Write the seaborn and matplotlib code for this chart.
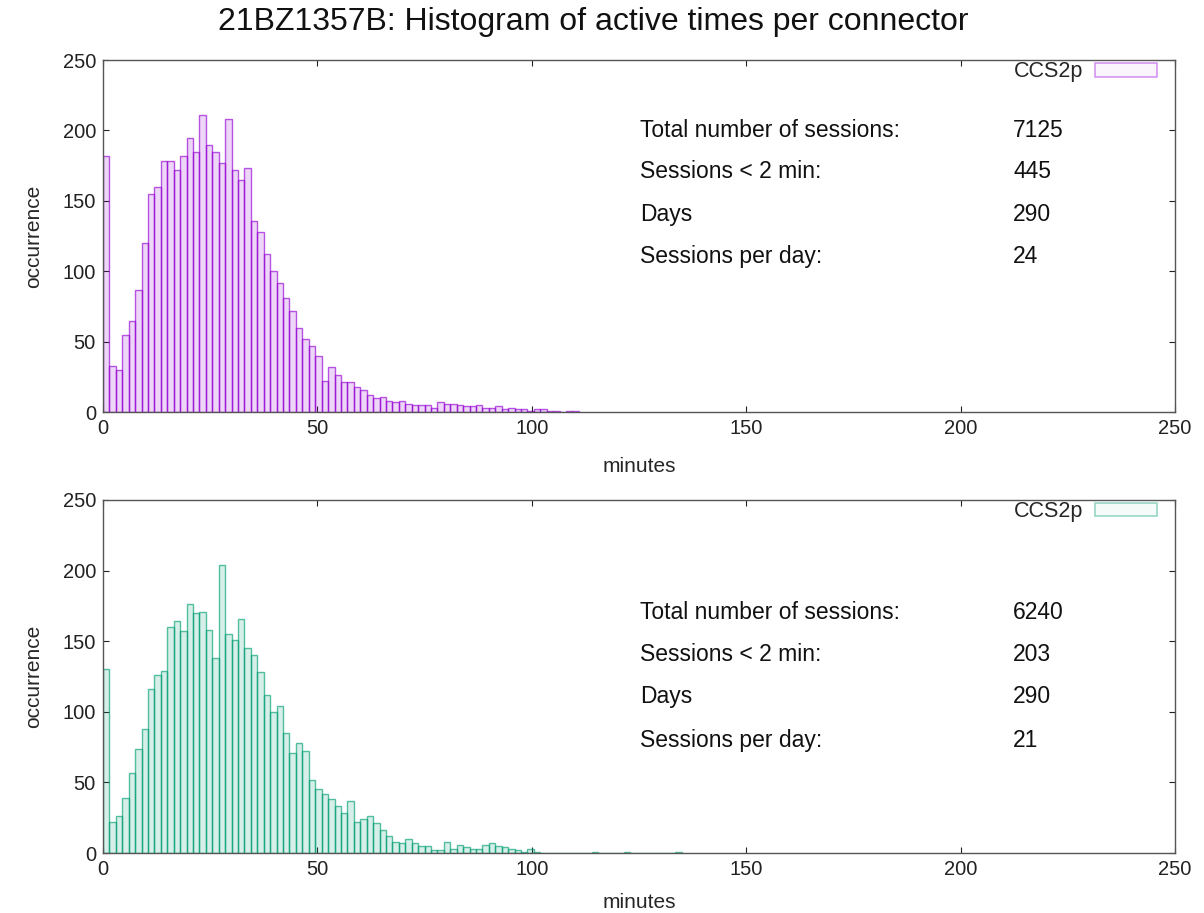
import numpy as np
import pandas as pd
import matplotlib
matplotlib.use("Agg")
import matplotlib.pyplot as plt
from matplotlib.colors import to_rgba
from matplotlib.patches import Patch
import seaborn as sns

# --- data (counts per 1.5 minute bin) ---
title = "21BZ1357B: Histogram of active times per connector"
bin_width = 1.5
connector = "CCS2p"

top_counts = [182, 33, 30, 55, 65, 87, 120, 155, 160, 178,
              178, 172, 182, 195, 185, 211, 190, 185, 177, 208,
              172, 165, 173, 136, 128, 112, 100, 92, 81, 72,
              60, 52, 47, 40, 22, 32, 26, 21, 21, 18,
              16, 12, 10, 11, 8, 7, 8, 6, 5, 5,
              5, 3, 7, 6, 6, 5, 4, 4, 5, 3,
              3, 4, 2, 3, 2, 2, 1, 2, 2, 1,
              1, 0, 1, 1]

bottom_counts = [130, 22, 26, 39, 57, 74, 88, 116, 126, 129,
                 160, 164, 157, 176, 170, 171, 158, 138, 204, 155,
                 151, 166, 145, 140, 128, 112, 100, 104, 85, 71,
                 78, 72, 52, 45, 42, 38, 33, 28, 37, 22,
                 24, 26, 21, 16, 12, 8, 7, 10, 7, 5,
                 5, 2, 2, 8, 3, 6, 4, 3, 3, 6,
                 7, 5, 4, 3, 2, 1, 3, 1, 0, 0,
                 0, 0, 0, 0, 0, 0, 1, 0, 0, 0,
                 0, 1, 0, 0, 0, 0, 0, 0, 0, 1]

stat_labels = ["Total number of sessions:", "Sessions < 2 min:", "Days", "Sessions per day:"]
top_stats = [7125, 445, 290, 24]
bottom_stats = [6240, 203, 290, 21]

x_ticks = [0, 50, 100, 150, 200, 250]
y_ticks = [0, 50, 100, 150, 200, 250]

sns.set_theme(style="ticks")
plt.rcParams["font.family"] = ["Liberation Sans", "DejaVu Sans"]

fig = plt.figure(figsize=(12.04, 9.13), dpi=100)
ax_top = fig.add_axes([0.0855, 0.5487, 0.8904, 0.3855])
ax_bot = fig.add_axes([0.0855, 0.0657, 0.8904, 0.3867])


def draw_panel(ax, counts, color, stats, stat_rows, xpad):
    n = len(counts)
    df = pd.DataFrame({
        "minutes": (np.arange(n) + 0.5) * bin_width,
        "count": np.asarray(counts, dtype=float),
    })
    sns.histplot(data=df, x="minutes", weights="count", binwidth=bin_width,
                 binrange=(0, n * bin_width), ax=ax,
                 color=color, alpha=0.16,
                 edgecolor=to_rgba(color, 0.65), linewidth=1.0)

    ax.set_xlim(0, 250)
    ax.set_ylim(0, 250)
    ax.set_xticks(x_ticks)
    ax.set_yticks(y_ticks)
    ax.tick_params(direction="in", top=True, right=True, length=4, width=0.8,
                   colors="#222222", labelsize=14.5, pad=5)
    for sp in ax.spines.values():
        sp.set_color("#555555")
        sp.set_linewidth(1.0)

    ax.set_xlabel("minutes", fontsize=15, labelpad=xpad)
    ax.set_ylabel("occurrence", fontsize=15, labelpad=14)

    # stats block
    for lab, val, yy in zip(stat_labels, stats, stat_rows):
        ax.text(0.501, yy, lab, transform=ax.transAxes, fontsize=16.5,
                va="center", ha="left", color="#111111")
        ax.text(0.849, yy, str(val), transform=ax.transAxes, fontsize=16.5,
                va="center", ha="left", color="#111111")

    handle = Patch(facecolor=to_rgba(color, 0.04), edgecolor=to_rgba(color, 0.4),
                   linewidth=1.2, label=connector)
    ax.legend(handles=[handle], loc="upper right", bbox_to_anchor=(0.994, 1.03),
              frameon=False, markerfirst=False,
              fontsize=15.5, handlelength=2.85, handleheight=0.6,
              borderaxespad=0.15, handletextpad=0.55)


draw_panel(ax_top, top_counts, "#9400d3", top_stats, [0.801, 0.682, 0.562, 0.443], 14)
draw_panel(ax_bot, bottom_counts, "#009e73", bottom_stats, [0.680, 0.561, 0.442, 0.320], 10)

fig.text(0.493, 0.976, title, ha="center", va="center", fontsize=23, color="#111111")

fig.savefig("out.png", dpi=100)
